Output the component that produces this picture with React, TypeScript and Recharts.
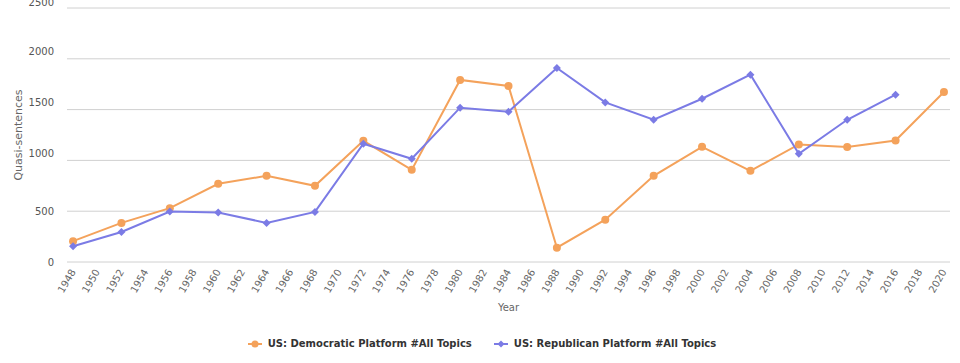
import { LineChart, Line, XAxis, YAxis, CartesianGrid, Legend } from 'recharts';

const years = [1948, 1952, 1956, 1960, 1964, 1968, 1972, 1976, 1980, 1984, 1988, 1992, 1996, 2000, 2004, 2008, 2012, 2016, 2020];
const democratic = [205, 385, 530, 770, 848, 750, 1193, 907, 1792, 1733, 141, 417, 848, 1134, 897, 1157, 1131, 1196, 1673];
const republican = [155, 295, 496, 486, 385, 493, 1164, 1016, 1519, 1479, 1910, 1571, 1400, 1607, 1844, 1065, 1400, 1647, null];
const xTicks = [1948, 1950, 1952, 1954, 1956, 1958, 1960, 1962, 1964, 1966, 1968, 1970, 1972, 1974, 1976, 1978, 1980, 1982, 1984, 1986, 1988, 1990, 1992, 1994, 1996, 1998, 2000, 2002, 2004, 2006, 2008, 2010, 2012, 2014, 2016, 2018, 2020];
const yTicks = [0, 500, 1000, 1500, 2000, 2500];

const DEM_COLOR = '#f4a25b';
const REP_COLOR = '#7b7be5';
const FONT = '"DejaVu Sans", Verdana, sans-serif';

const data = years.map((year, i) => ({
	year,
	dem: democratic[i],
	rep: republican[i],
}));

const series = [
	{ key: 'dem', name: 'US: Democratic Platform #All Topics', color: DEM_COLOR, shape: 'circle' },
	{ key: 'rep', name: 'US: Republican Platform #All Topics', color: REP_COLOR, shape: 'diamond' },
];

function Diamond(props: any) {
	const { cx, cy, fill } = props;
	if (cx == null || cy == null || props.value == null) return null;
	const s = 4;
	return <path d={`M${cx},${cy - s}L${cx + s},${cy}L${cx},${cy + s}L${cx - s},${cy}Z`} fill={fill} />;
}

function XTick(props: any) {
	const { x, y, payload } = props;
	return (
		<text
			x={x}
			y={y}
			transform={`rotate(-60, ${x}, ${y})`}
			textAnchor="end"
			dominantBaseline="central"
			fill="#666"
			fontSize={10}
			fontFamily={FONT}
		>
			{payload.value}
		</text>
	);
}

// the source tool nudges the 4-digit labels up a little
function YTick(props: any) {
	const { x, y, payload } = props;
	const shift = payload.value >= 1000 ? -7 : 0;
	return (
		<text x={x} y={y + shift} textAnchor="end" dominantBaseline="central" fill="#555" fontSize={10} fontFamily={FONT}>
			{payload.value}
		</text>
	);
}

function LegendContent() {
	return (
		<div style={{ display: 'flex', justifyContent: 'center', gap: 22, paddingTop: 21, paddingLeft: 14, fontFamily: FONT, fontSize: 10, fontWeight: 'bold', color: '#333' }}>
			{series.map((s) => (
				<div key={s.key} style={{ display: 'flex', alignItems: 'center', gap: 6 }}>
					<svg width={14} height={10}>
						<line x1={0} y1={5} x2={14} y2={5} stroke={s.color} strokeWidth={2} />
						{s.shape === 'circle' ? (
							<circle cx={7} cy={5} r={3.5} fill={s.color} />
						) : (
							<path d="M7,1.5L10.5,5L7,8.5L3.5,5Z" fill={s.color} />
						)}
					</svg>
					<span>{s.name}</span>
				</div>
			))}
		</div>
	);
}

export default function App() {
	return (
		<div style={{ position: 'absolute', left: 0, top: 0, background: '#fff' }}>
			<LineChart width={960} height={363} data={data} margin={{ top: 8, right: 10, bottom: 0, left: 0 }}>
				<CartesianGrid vertical={false} stroke="#d0d0d0" />
				<XAxis
					dataKey="year"
					type="number"
					domain={[1947.5, 2020.5]}
					ticks={xTicks}
					interval={0}
					axisLine={false}
					tickLine={false}
					tick={<XTick />}
					height={55}
					label={{ value: 'Year', position: 'insideBottom', offset: 6, fill: '#666', fontSize: 10, fontFamily: FONT }}
				/>
				<YAxis
					ticks={yTicks}
					domain={[0, 2500]}
					axisLine={false}
					tickLine={false}
					width={67}
					tickMargin={7}
					tick={<YTick />}
					label={{ value: 'Quasi-sentences', angle: -90, position: 'insideLeft', offset: 18, fill: '#666', fontSize: 11, fontFamily: FONT, style: { textAnchor: 'middle' } }}
				/>
				<Legend verticalAlign="bottom" height={46} content={<LegendContent />} />
				<Line
					dataKey="dem"
					name={series[0].name}
					stroke={DEM_COLOR}
					strokeWidth={2}
					dot={{ r: 4, fill: DEM_COLOR, stroke: 'none' }}
					isAnimationActive={false}
				/>
				<Line
					dataKey="rep"
					name={series[1].name}
					stroke={REP_COLOR}
					strokeWidth={2}
					dot={<Diamond fill={REP_COLOR} />}
					isAnimationActive={false}
				/>
			</LineChart>
		</div>
	);
}
